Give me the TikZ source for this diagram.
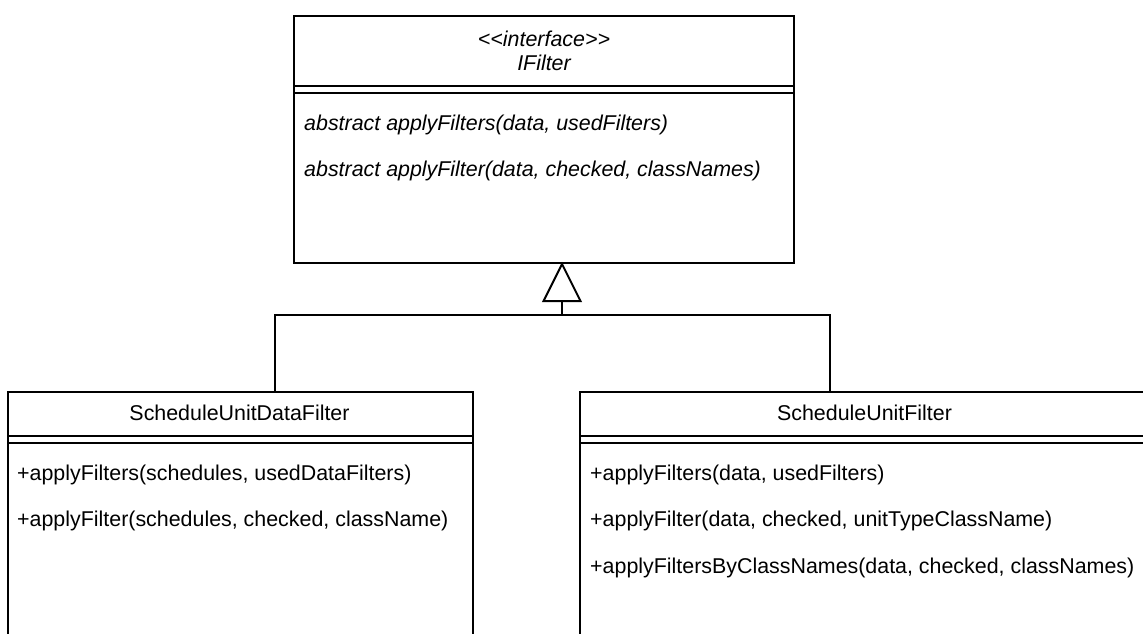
\documentclass[tikz,border=0pt]{standalone}
\usepackage{fontspec}
\newfontfamily\umlfont{Liberation Sans}
\begin{document}
\begin{tikzpicture}[x=1pt,y=-1pt,
  classbox/.style={draw, line width=2pt, inner sep=0pt, anchor=north west},
  sepline/.style={line width=2pt},
  wire/.style={line width=2pt},
  hollowhead/.style={line width=2pt, fill=white, line join=miter},
  member/.style={anchor=west, inner sep=0pt, font=\umlfont\fontsize{21.4}{25}\selectfont},
  abstractmember/.style={member, font=\umlfont\itshape\fontsize{21.4}{25}\selectfont},
  classname/.style={inner sep=0pt, align=center, font=\umlfont\fontsize{21.4}{24}\selectfont}]
\useasboundingbox (0,0) rectangle (1143,633);
\clip (0,0) rectangle (1143,633);

% interface IFilter
\node[classbox, minimum width=500pt, minimum height=247pt] (ifilter) at (293,15) {};
\draw[sepline] ([yshift=-71pt]ifilter.north west) -- ([yshift=-71pt]ifilter.north east);
\draw[sepline] ([yshift=-78pt]ifilter.north west) -- ([yshift=-78pt]ifilter.north east);
\node[classname, font=\umlfont\itshape\fontsize{21.4}{24}\selectfont] (ifiltertitle) at (544,51) {<<interface>>\\IFilter};
\node[abstractmember] (if1) at (304,125) {abstract applyFilters(data, usedFilters)};
\node[abstractmember] (if2) at (304,171) {abstract applyFilter(data, checked, classNames)};

% class ScheduleUnitDataFilter
\node[classbox, minimum width=465pt, minimum height=270pt] (sudf) at (7,391) {};
\draw[sepline] ([yshift=-45pt]sudf.north west) -- ([yshift=-45pt]sudf.north east);
\draw[sepline] ([yshift=-52pt]sudf.north west) -- ([yshift=-52pt]sudf.north east);
\node[classname] (sudftitle) at (239.5,413) {ScheduleUnitDataFilter};
\node[member] (sudf1) at (17,475) {+applyFilters(schedules, usedDataFilters)};
\node[member] (sudf2) at (17,521) {+applyFilter(schedules, checked, className)};

% class ScheduleUnitFilter
\node[classbox, minimum width=571pt, minimum height=270pt] (suf) at (579,391) {};
\draw[sepline] ([yshift=-45pt]suf.north west) -- ([yshift=-45pt]suf.north east);
\draw[sepline] ([yshift=-52pt]suf.north west) -- ([yshift=-52pt]suf.north east);
\node[classname] (suftitle) at (864.5,413) {ScheduleUnitFilter};
\node[member] (suf1) at (590,475) {+applyFilters(data, usedFilters)};
\node[member] (suf2) at (590,521) {+applyFilter(data, checked, unitTypeClassName)};
\node[member] (suf3) at (590,568) {+applyFiltersByClassNames(data, checked, classNames)};

% realization connectors with hollow triangle head
\coordinate (apex) at ([xshift=269pt]ifilter.south west);
\coordinate (headbase) at ([yshift=-37pt]apex);
\coordinate (bus) at (562,315);
\coordinate (ldrop) at ([xshift=268pt]sudf.north west);
\coordinate (rdrop) at ([xshift=251pt]suf.north west);
\draw[wire] (ldrop) -- (ldrop |- bus) -- (rdrop |- bus) -- (rdrop);
\draw[wire] (bus) -- (headbase);
\draw[hollowhead] (apex) -- ([xshift=-18.5pt]headbase) -- ([xshift=18.5pt]headbase) -- cycle;
\end{tikzpicture}
\end{document}
